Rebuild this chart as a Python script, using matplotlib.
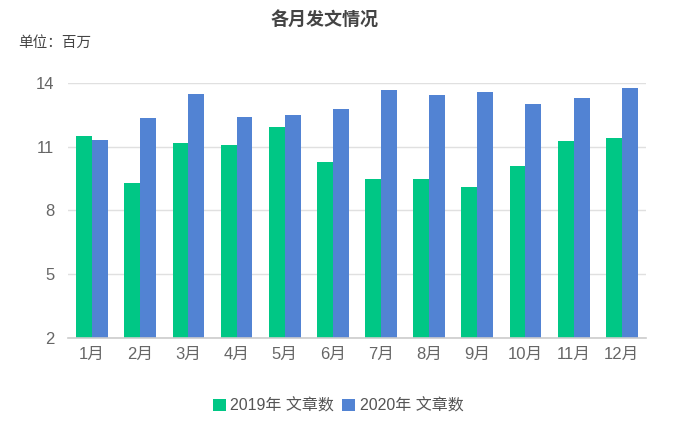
import matplotlib.pyplot as plt
import numpy as np

plt.rcParams['font.family'] = ['Liberation Sans', 'Noto Sans CJK SC', 'DejaVu Sans']

months = ['1月', '2月', '3月', '4月', '5月', '6月', '7月', '8月', '9月', '10月', '11月', '12月']
y2019 = [11.5, 9.28, 11.19, 11.09, 11.94, 10.31, 9.47, 9.47, 9.11, 10.08, 11.28, 11.42]
y2020 = [11.33, 12.38, 13.48, 12.41, 12.51, 12.77, 13.67, 13.45, 13.58, 13.01, 13.31, 13.78]
yticks = [2, 5, 8, 11, 14]

fig = plt.figure(figsize=(6.9, 4.26), dpi=100)
ax = fig.add_axes([0.0986, 0.2073, 0.8374, 0.5972])

x = np.arange(len(months))
w = 0.33
ax.bar(x - w / 2, y2019, width=w, color='#00C785', label='2019年 文章数', zorder=3)
ax.bar(x + w / 2, y2020, width=w, color='#5283D3', label='2020年 文章数', zorder=3)

ax.set_xlim(-0.5, len(months) - 0.5)
ax.set_ylim(2, 14)
ax.set_yticks(yticks)
ax.set_xticks(x)
ax.set_xticklabels(months)
ax.tick_params(axis='both', length=0, labelsize=12, colors='#666666')
ax.tick_params(axis='x', pad=7)
ax.tick_params(axis='y', pad=10)
ax.grid(axis='y', color='#E0E0E0', linewidth=1, zorder=0)
for s in ['top', 'right', 'left']:
    ax.spines[s].set_visible(False)
ax.spines['bottom'].set_color('#CCCCCC')
ax.spines['bottom'].set_linewidth(1.2)
ax.spines['bottom'].set_zorder(4)

fig.text(0.471, 0.952, '各月发文情况', ha='center', va='center', fontsize=13,
         fontweight='bold', color='#444444')
fig.text(0.026, 0.9, '单位：百万', ha='left', va='center', fontsize=10.5, color='#444444')

fig.legend(loc='center', bbox_to_anchor=(0.49, 0.048), ncol=2, frameon=False,
           fontsize=11.5, handlelength=0.8, handleheight=0.8, handletextpad=0.3,
           columnspacing=0.5, labelcolor='#555555')

fig.savefig('out.png', dpi=100)
